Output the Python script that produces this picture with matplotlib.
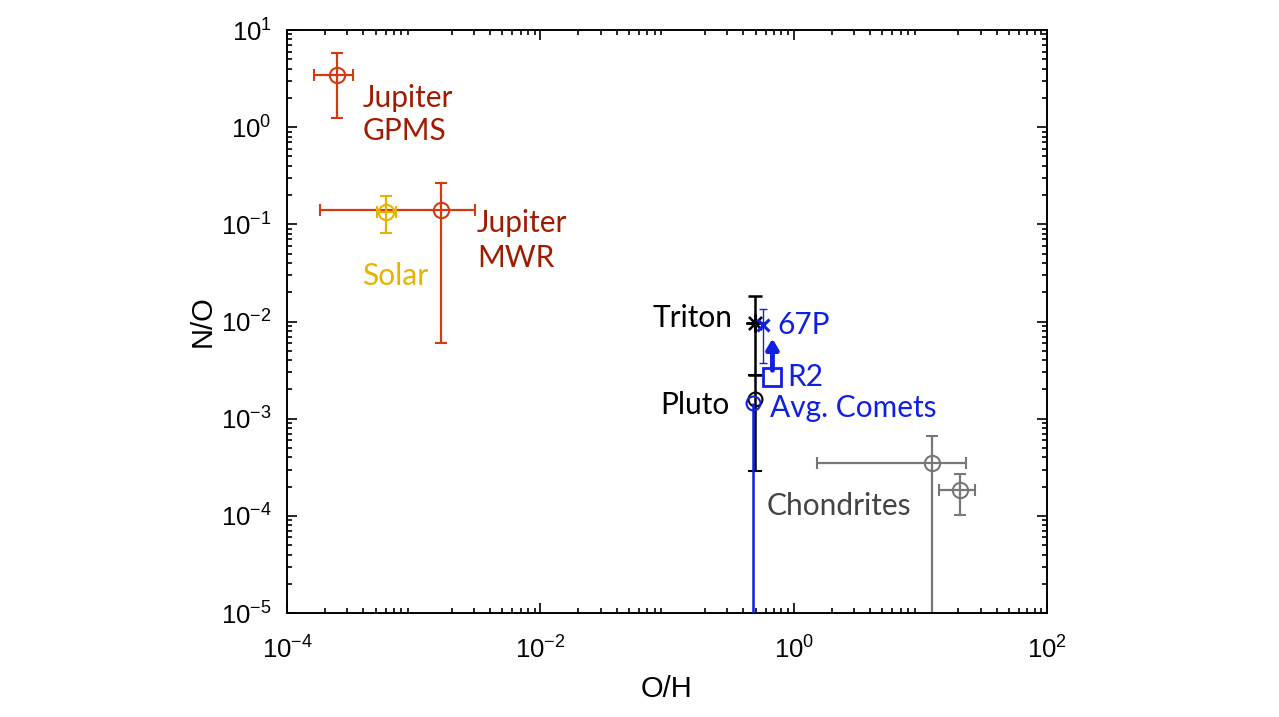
import numpy as np
import matplotlib
matplotlib.use("Agg")
import matplotlib.pyplot as plt

plt.rcParams['font.family'] = ['Liberation Sans', 'DejaVu Sans']
plt.rcParams['mathtext.fontset'] = 'custom'
plt.rcParams['mathtext.rm'] = 'Liberation Sans'
plt.rcParams['mathtext.it'] = 'Liberation Sans'
plt.rcParams['mathtext.bf'] = 'Liberation Sans:bold'
plt.rcParams['mathtext.default'] = 'regular'

# ---- data (O/H, N/O) ----
jup_gpms_x = [2.5e-4]; jup_gpms_y = [3.44]
jup_gpms_xerr = [[2.5e-4 - 1.63e-4], [3.3e-4 - 2.5e-4]]
jup_gpms_yerr = [[3.44 - 1.23], [5.75 - 3.44]]

solar_x = [6.0e-4]; solar_y = [0.135]
solar_xerr = [[6.0e-4 - 5.1e-4], [7.2e-4 - 6.0e-4]]
solar_yerr = [[0.135 - 0.081], [0.196 - 0.135]]

jup_mwr_x = [1.64e-3]; jup_mwr_y = [0.14]
jup_mwr_xerr = [[1.64e-3 - 1.82e-4], [3.05e-3 - 1.64e-3]]
jup_mwr_yerr = [[0.14 - 0.006], [0.269 - 0.14]]

triton_x = [0.494]; triton_y = [0.00975]
triton_yerr = [[0.00975 - 0.0028], [0.0183 - 0.00975]]

pluto_x = [0.494]; pluto_y = [0.0016]
pluto_yerr = [[0.0016 - 2.9e-4], [0.0028 - 0.0016]]

comets_x = [0.48]; comets_y = [0.00145]
comets_yerr = [[0.00145 - 1e-7], [0.0]]

p67_x = [0.574]; p67_y = [0.0092]
p67_yerr = [[0.0092 - 0.00377], [0.0134 - 0.0092]]

r2_x = [0.68]; r2_y = [0.00267]; r2_arrow_top = [0.0067]

chond_x = [12.4, 20.5]; chond_y = [3.48e-4, 1.85e-4]
chond_xerr = [[12.4 - 1.52, 20.5 - 14.1], [22.9 - 12.4, 27.1 - 20.5]]
chond_yerr = [[3.48e-4 - 1e-7, 1.85e-4 - 1.02e-4], [6.7e-4 - 3.48e-4, 2.7e-4 - 1.85e-4]]

xticks = [1e-4, 1e-2, 1e0, 1e2]
xticklabels = ['$10^{-4}$', '$10^{-2}$', '$10^{0}$', '$10^{2}$']
yticks = [1e-5, 1e-4, 1e-3, 1e-2, 1e-1, 1e0, 1e1]
yticklabels = ['$10^{-5}$', '$10^{-4}$', '$10^{-3}$', '$10^{-2}$', '$10^{-1}$', '$10^{0}$', '$10^{1}$']

# ---- colours ----
c_jup = '#D23A12'
c_jup_txt = '#A01C00'
c_solar = '#E8B200'
c_blue = '#1020E0'
c_gray = '#777777'

fig = plt.figure(figsize=(12.79, 7.17), dpi=100)
ax = fig.add_axes([0.2244, 0.145, 0.5942, 0.8131])
ax.set_xscale('log'); ax.set_yscale('log')
ax.set_xlim(1e-4, 1e2); ax.set_ylim(1e-5, 1e1)

ekw = dict(capsize=4, elinewidth=1.6, capthick=1.6, markeredgewidth=1.5, mfc='none', ms=11)

ax.errorbar(jup_gpms_x, jup_gpms_y, xerr=jup_gpms_xerr, yerr=jup_gpms_yerr, fmt='o', color=c_jup, **ekw)
ax.errorbar(jup_mwr_x, jup_mwr_y, xerr=jup_mwr_xerr, yerr=jup_mwr_yerr, fmt='o', color=c_jup, **ekw)
ax.errorbar(solar_x, solar_y, xerr=solar_xerr, yerr=solar_yerr, fmt='o', color=c_solar, **ekw)

ax.errorbar(comets_x, comets_y, yerr=comets_yerr, fmt='o', color=c_blue, capsize=0,
            elinewidth=1.8, mfc='none', ms=10, markeredgewidth=1.5, zorder=4)
ax.errorbar(pluto_x, pluto_y, yerr=pluto_yerr, fmt='o', color='black', capsize=5,
            elinewidth=1.8, capthick=1.8, mfc='none', ms=10, markeredgewidth=1.5, zorder=3)
ax.errorbar(triton_x, triton_y, yerr=triton_yerr, fmt='none', ecolor='black', capsize=5,
            elinewidth=1.8, capthick=1.8, zorder=3)
ax.plot(triton_x, triton_y, linestyle='none', marker=(8, 2, 0), ms=13, mew=1.6, color='black', zorder=4)

ax.errorbar(p67_x, p67_y, yerr=p67_yerr, fmt='none', ecolor=c_blue, capsize=3, elinewidth=1.0,
            capthick=1.0, zorder=4)
ax.plot(p67_x, p67_y, linestyle='none', marker='x', ms=8, mew=2.2, color=c_blue, zorder=5)

ax.plot(r2_x, r2_y, linestyle='none', marker='s', ms=13, mfc='none', mew=2.0, color=c_blue, zorder=5)
for x0, y0, y1 in zip(r2_x, r2_y, r2_arrow_top):
    ax.annotate('', xy=(x0, y1), xytext=(x0, y0 * 1.18),
                arrowprops=dict(arrowstyle='-|>,head_width=0.35,head_length=0.6', lw=3.5,
                                color=c_blue, shrinkA=0, shrinkB=0), zorder=5)

ax.errorbar(chond_x, chond_y, xerr=chond_xerr, yerr=chond_yerr, fmt='o', color=c_gray, **ekw)

# ---- labels ----
lf = dict(family=['Lato', 'DejaVu Sans'], fontsize=21.5)
ax.text(3.98e-4, 1.35, 'Jupiter\nGPMS', color=c_jup_txt, ha='left', va='center', linespacing=1.2, **lf)
ax.text(3.16e-3, 0.068, 'Jupiter\nMWR', color=c_jup_txt, ha='left', va='center', linespacing=1.3, **lf)
ax.text(3.9e-4, 0.0294, 'Solar', color=c_solar, ha='left', va='center', **lf)
ax.text(0.33, 0.0109, 'Triton', color='black', ha='right', va='center', **lf)
ax.text(0.75, 0.0092, '67P', color=c_blue, ha='left', va='center', **lf)
ax.text(0.883, 0.00269, 'R2', color=c_blue, ha='left', va='center', **lf)
ax.text(0.31, 0.00139, 'Pluto', color='black', ha='right', va='center', **lf)
ax.text(0.649, 0.00129, 'Avg. Comets', color=c_blue, ha='left', va='center', **lf)
ax.text(0.614, 1.27e-4, 'Chondrites', color='#444444', ha='left', va='center', **lf)

ax.set_xticks(xticks); ax.set_xticklabels(xticklabels)
ax.set_yticks(yticks); ax.set_yticklabels(yticklabels)
ax.tick_params(which='both', direction='in', top=True, right=True, labelsize=18.5, width=1.2)
ax.tick_params(which='major', length=7)
ax.tick_params(which='minor', length=3.5)
ax.tick_params(axis='x', which='major', pad=17)
ax.tick_params(axis='y', which='major', pad=11)
for s in ax.spines.values():
    s.set_linewidth(1.4)
ax.set_xlabel('O/H', fontsize=21, labelpad=8)
ax.set_ylabel('N/O', fontsize=21, labelpad=3)

fig.savefig('out.png', dpi=100)
